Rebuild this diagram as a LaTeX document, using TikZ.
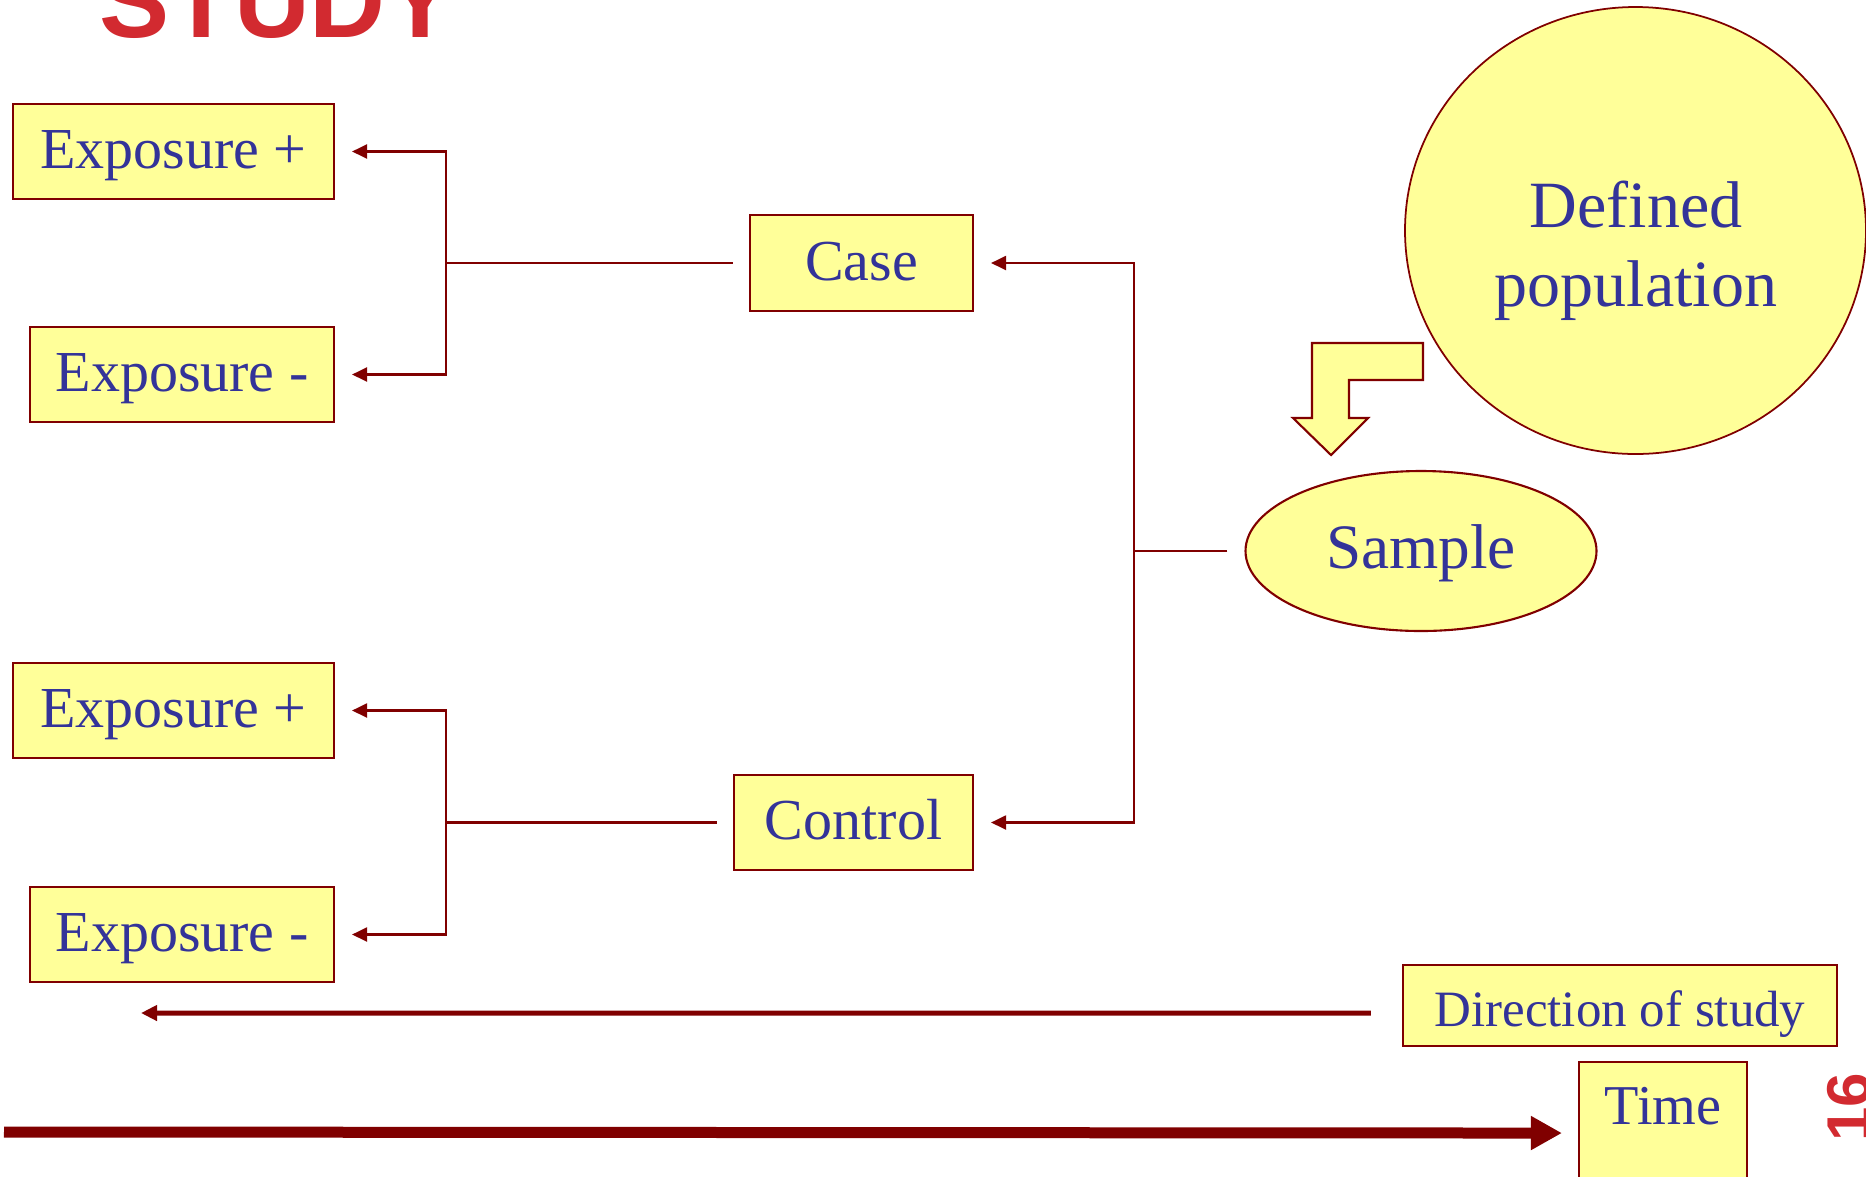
\documentclass[tikz,border=0pt]{standalone}
\usepackage{fontspec}
\setmainfont{Liberation Serif}
\newfontfamily\headfont{Liberation Sans}
\usetikzlibrary{arrows.meta,shapes.geometric}
\definecolor{dred}{HTML}{800000}
\definecolor{pale}{HTML}{FFFF99}
\definecolor{navy}{HTML}{333399}
\definecolor{title}{HTML}{D22A30}
\tikzset{
  box/.style={draw=dred,fill=pale,line width=.6pt,text=navy,inner sep=0pt,
    text height=11.6pt,text depth=1.7pt,font=\fontsize{16.5}{20}\selectfont},
  link/.style={dred,line width=.6pt},
  tip/.style={-{Triangle[length=1.5mm,width=1.4mm]}},
}

\begin{document}
\begin{tikzpicture}[x=.1mm,y=-.1mm]
\useasboundingbox (0,0) rectangle (1866,1176);
\clip (0,0) rectangle (1866,1176);
% heading and slide number, cut by the frame
\node[anchor=base west,inner sep=0pt,text=title,font=\headfont\bfseries\fontsize{29.9}{31}\selectfont] (head) at (99,37) {STUDY};
\node[anchor=north,rotate=90,inner sep=0pt,text=title,font=\headfont\bfseries\fontsize{17.6}{20}\selectfont] (pageno) at (1827,1107) {16};
% population and sample
\node[ellipse,draw=dred,fill=pale,line width=.5pt,minimum width=46.1mm,minimum height=44.7mm] (pop) at (1635.5,230.5) {};
\node[text=navy,align=center,font=\fontsize{18.8}{22.5}\selectfont] (poptext) at (1636,251) {Defined\\population};
\filldraw[draw=dred,fill=pale,line width=.6pt] (1312,343) -- (1423,343) -- (1423,380) -- (1349,380) -- (1349,418) -- (1368,418) -- (1331,455) -- (1293,418) -- (1312,418) -- cycle;
\node[box,ellipse,minimum width=35.1mm,minimum height=16mm,font=\fontsize{18}{20}\selectfont] (sample) at (1421,551) {Sample};
% cases and controls
\node[box,minimum width=22.3mm,minimum height=9.6mm] (case) at (861.5,263) {Case};
\node[box,minimum width=23.9mm,minimum height=9.5mm] (control) at (853.5,822.5) {Control};
\node[box,minimum width=32.1mm,minimum height=9.5mm] (ep1) at (173.5,151.5) {Exposure +};
\node[box,minimum width=30.4mm,minimum height=9.5mm] (em1) at (182,374.5) {Exposure -};
\node[box,minimum width=32.1mm,minimum height=9.5mm] (ep2) at (173.5,710.5) {Exposure +};
\node[box,minimum width=30.4mm,minimum height=9.5mm] (em2) at (182,934.5) {Exposure -};
\coordinate (jsample) at (1134,551);
\coordinate (jcase) at (446,263);
\coordinate (jcontrol) at (446,822.5);
\draw[link,shorten <=1.7mm] (sample.west) -- (jsample);
\draw[link,tip,shorten >=1.7mm] (jsample) |- (case.east);
\draw[link,tip,shorten >=1.7mm] (jsample) |- (control.east);
\draw[link,shorten <=1.6mm] (case.west) -- (jcase);
\draw[link,tip,shorten >=1.7mm] (jcase) |- (ep1.east);
\draw[link,tip,shorten >=1.7mm] (jcase) |- (em1.east);
\draw[link,shorten <=1.6mm] (control.west) -- (jcontrol);
\draw[link,tip,shorten >=1.7mm] (jcontrol) |- (ep2.east);
\draw[link,tip,shorten >=1.7mm] (jcontrol) |- (em2.east);
% direction of study and time
\node[box,minimum width=43.4mm,minimum height=8.1mm,text height=13.5pt,text depth=1.3pt,font=\fontsize{14.5}{16}\selectfont] (dir) at (1620,1005.5) {Direction of study};
\node[box,anchor=north,minimum width=16.8mm,text height=6.2mm,text depth=8mm,font=\fontsize{16}{18}\selectfont] (time) at (1663,1061) {Time};
\coordinate (dirend) at (141,1013);
\coordinate (timestart) at (4,1132);
\draw[dred,line width=.5mm,-{Triangle[length=1.6mm,width=1.5mm]}] ([xshift=-3.1mm,yshift=-.75mm]dir.west) -- (dirend);
\draw[dred,line width=1.1mm,-{Triangle[length=3.1mm,width=3.2mm]},shorten >=1.6mm] (timestart) -- (time.west);
\end{tikzpicture}
\end{document}
